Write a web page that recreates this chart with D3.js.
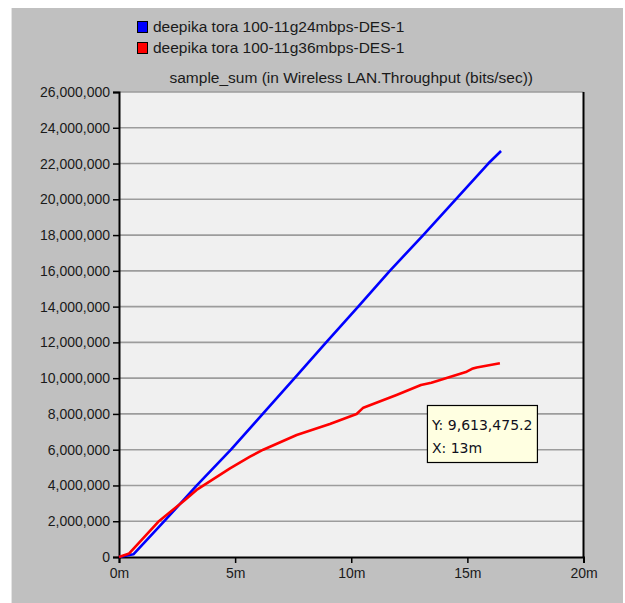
<!DOCTYPE html>
<html>
<head>
<meta charset="utf-8">
<script src="https://cdn.jsdelivr.net/npm/d3@7"></script>
<style>
  html, body { margin: 0; padding: 0; background: #ffffff; }
  svg { display: block; font-family: "Liberation Sans", Arial, sans-serif; }
</style>
</head>
<body>
<svg id="chart" width="625" height="603"></svg>
<script>
// Throughput sample sums (bits/sec) over simulation time (minutes)
const seriesNames = [
  "deepika tora 100-11g24mbps-DES-1",
  "deepika tora 100-11g36mbps-DES-1"
];
const seriesColors = ["#0000ff", "#ff0000"];

const time24 = [0, 0.62, 1.95, 3.35, 4.82, 6.19, 7.56, 8.92, 10.3, 11.66, 13.1, 14.5, 15.9, 16.45];
const value24 = [0, 150000, 2000000, 4000000, 6000000, 8000000, 10000000, 12000000, 14000000, 16000000, 18000000, 20000000, 22000000, 22700000];

const time36 = [0, 0.44, 1.69, 2.84, 3.34, 4.78, 5.64, 6.21, 7.65, 9.08, 10.23, 10.52, 11.95, 13, 13.45, 14.97, 15.2, 15.4, 16.4];
const value36 = [0, 200000, 1970000, 3190000, 3750000, 4960000, 5610000, 6000000, 6820000, 7440000, 8000000, 8350000, 9060000, 9613475.2, 9740000, 10360000, 10520000, 10600000, 10830000];

const yTicks = d3.range(0, 26000001, 2000000);
const xTicks = [0, 5, 10, 15, 20];
const chartTitle = "sample_sum (in Wireless LAN.Throughput (bits/sec))";
const tipPoint = { t: 13, v: 9613475.2 };

const svg = d3.select("#chart");
const W = 625, H = 603;
const plot = { left: 119, right: 583.5, top: 92, bottom: 557 };

// grey panel behind everything
svg.append("rect").attr("x", 12).attr("y", 8).attr("width", 611).attr("height", H - 8)
  .attr("fill", "#c0c0c0");
svg.append("line").attr("x1", 11.5).attr("x2", 11.5).attr("y1", 8).attr("y2", H)
  .attr("stroke", "#e4e4e4").attr("stroke-width", 1);

const x = d3.scaleLinear().domain([0, 20]).range([plot.left, plot.right]);
const y = d3.scaleLinear().domain([0, 26000000]).range([plot.bottom, plot.top]);

// plot background
svg.append("rect").attr("x", plot.left).attr("y", plot.top)
  .attr("width", plot.right - plot.left).attr("height", plot.bottom - plot.top)
  .attr("fill", "#f0f0f0");

// horizontal grid
svg.append("g").selectAll("line").data(yTicks.slice(1)).join("line")
  .attr("x1", plot.left).attr("x2", plot.right)
  .attr("y1", d => y(d)).attr("y2", d => y(d))
  .attr("stroke", "#9c9c9c").attr("stroke-width", 1.6);

// plot frame
svg.append("line").attr("x1", plot.right).attr("x2", plot.right)
  .attr("y1", plot.top).attr("y2", plot.bottom)
  .attr("stroke", "#000").attr("stroke-width", 2);

// axes
const fmt = d3.format(",");
const yAxis = d3.axisLeft(y).tickValues(yTicks).tickFormat(d => fmt(d)).tickSize(6).tickPadding(3);
const xAxis = d3.axisBottom(x).tickValues(xTicks).tickFormat(d => d + "m").tickSize(6).tickPadding(5);

const gy = svg.append("g").attr("transform", `translate(${plot.left},0)`).call(yAxis);
const gx = svg.append("g").attr("transform", `translate(0,${plot.bottom})`).call(xAxis);
[gy, gx].forEach(g => {
  g.select(".domain").attr("stroke", "#000").attr("stroke-width", 2);
  g.selectAll(".tick line").attr("stroke", "#000").attr("stroke-width", 1.5);
  g.selectAll(".tick text").attr("fill", "#1a1a1a")
    .style("font-family", "'Liberation Sans', Arial, sans-serif").style("font-size", "14px");
});

// series lines
const line = d3.line().x(d => x(d[0])).y(d => y(d[1]));
const series = [
  d3.zip(time24, value24),
  d3.zip(time36, value36)
];
svg.append("g").selectAll("path").data(series).join("path")
  .attr("d", line)
  .attr("fill", "none")
  .attr("stroke", (d, i) => seriesColors[i])
  .attr("stroke-width", 2.6)
  .attr("stroke-linejoin", "round");

// chart title
svg.append("text").attr("x", (plot.left + plot.right) / 2).attr("y", 83)
  .attr("text-anchor", "middle").attr("fill", "#1a1a1a").style("font-size", "15.5px")
  .text(chartTitle);

// legend
const lg = svg.append("g").selectAll("g").data(seriesNames).join("g")
  .attr("transform", (d, i) => `translate(137,${21 + i * 21})`);
lg.append("rect").attr("x", 0.5).attr("y", 0.5).attr("width", 10).attr("height", 11)
  .attr("fill", (d, i) => seriesColors[i]).attr("stroke", "#000").attr("stroke-width", 1);
lg.append("text").attr("x", 16).attr("y", 11).attr("fill", "#1a1a1a")
  .style("font-size", "15.5px").text(d => d);

// value tooltip
const tip = svg.append("g").attr("transform", `translate(${x(tipPoint.t) + 6},405)`);
tip.append("rect").attr("x", 0.5).attr("y", 0.5).attr("width", 110).attr("height", 57)
  .attr("fill", "#ffffe1").attr("stroke", "#000").attr("stroke-width", 1.2);
tip.append("text").attr("x", 5).attr("y", 25).attr("fill", "#101020")
  .style("font-family", "'DejaVu Sans', sans-serif").style("font-size", "14px")
  .text("Y: " + d3.format(",.1f")(tipPoint.v));
tip.append("text").attr("x", 5).attr("y", 48).attr("fill", "#101020")
  .style("font-family", "'DejaVu Sans', sans-serif").style("font-size", "14px")
  .text("X: " + tipPoint.t + "m");
</script>
</body>
</html>
